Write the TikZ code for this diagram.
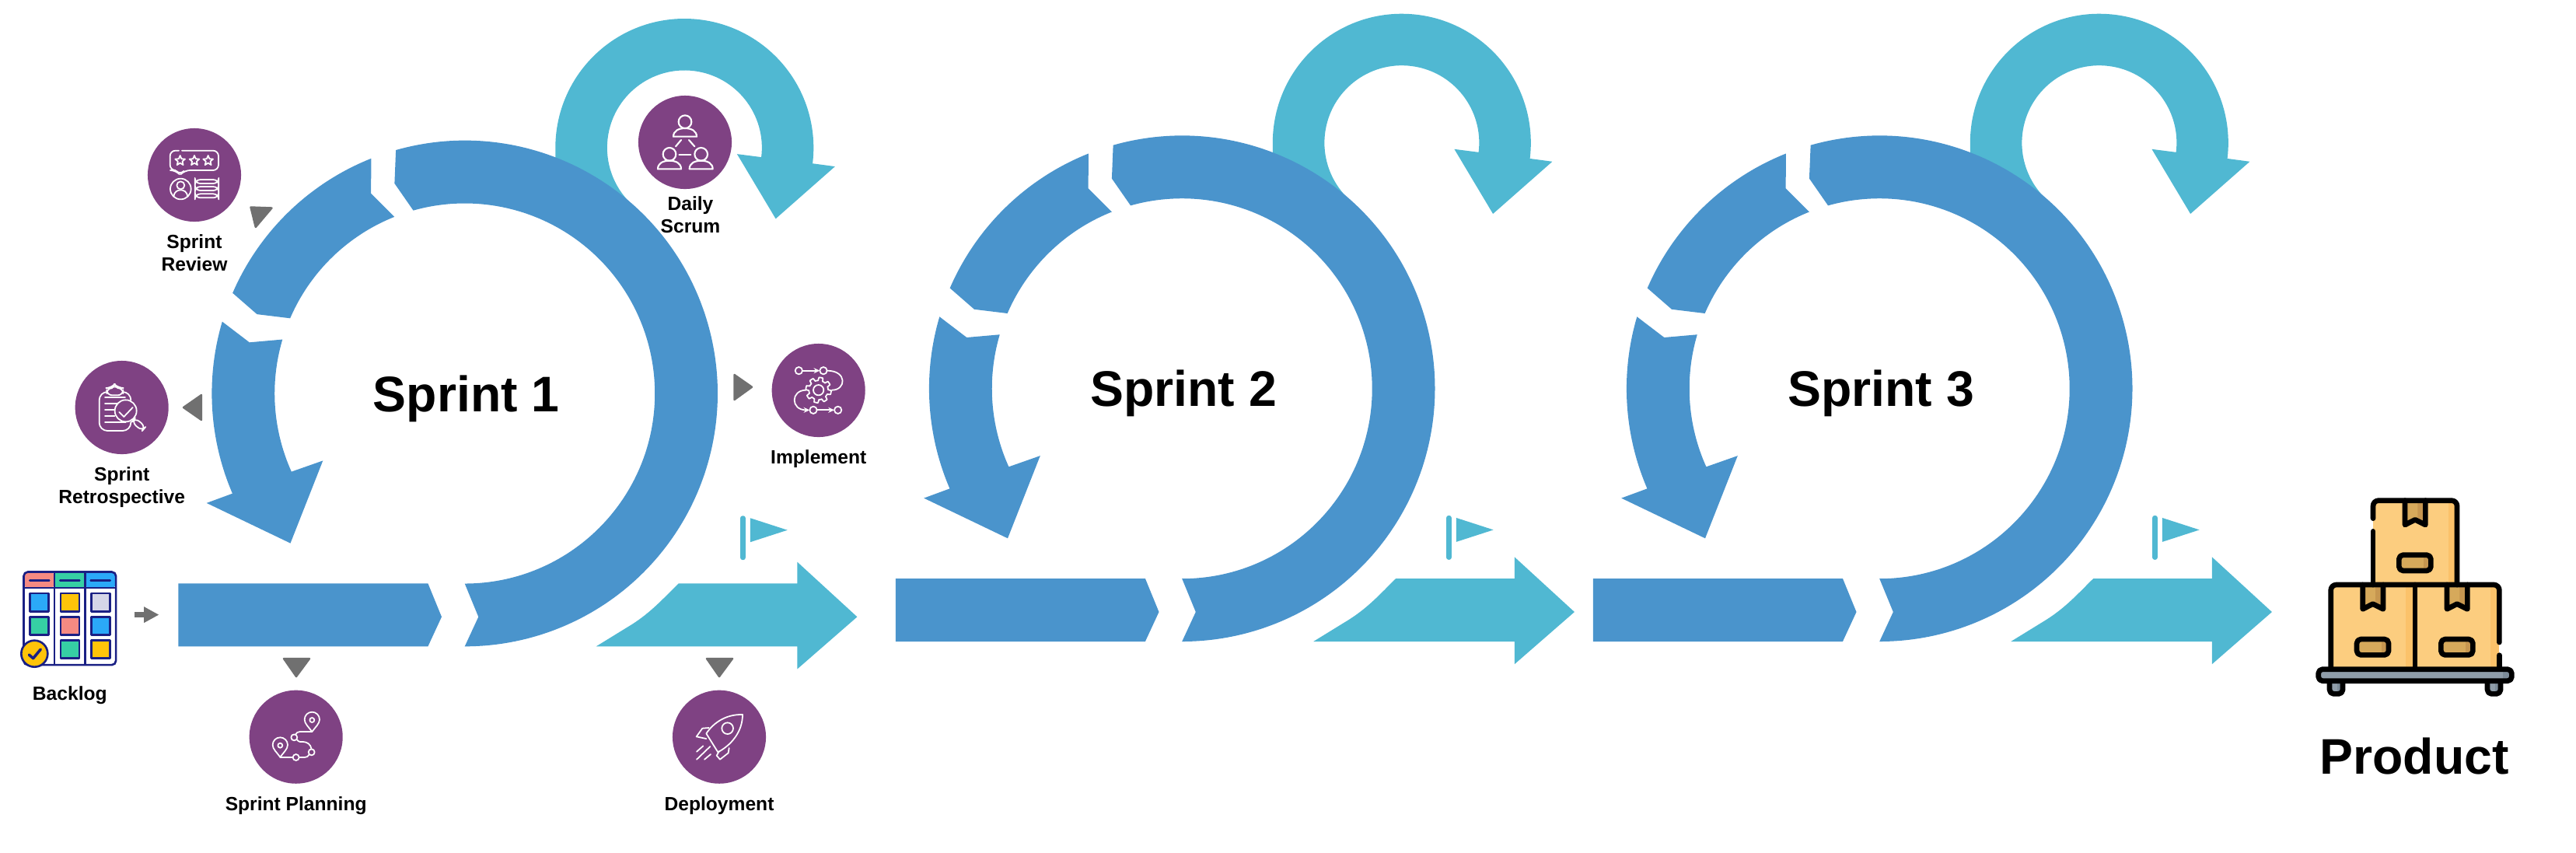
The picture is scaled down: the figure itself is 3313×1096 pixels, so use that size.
\documentclass[tikz,border=0pt]{standalone}
\usepackage{fontspec}
\setmainfont{Liberation Sans}
\usetikzlibrary{positioning,arrows.meta}
\definecolor{ringblue}{HTML}{4A94CC}
\definecolor{loopteal}{HTML}{50B8D2}
\definecolor{stagepurple}{HTML}{7F4283}
\definecolor{pointergrey}{HTML}{707070}
\definecolor{boardnavy}{HTML}{1A2084}
\definecolor{cellred}{HTML}{F58A82}
\definecolor{cellgreen}{HTML}{36CFA4}
\definecolor{cellblue}{HTML}{2BA9F8}
\definecolor{cellyellow}{HTML}{FFC409}
\definecolor{celllav}{HTML}{D5D6E8}
\definecolor{parcelfill}{HTML}{FCCD7F}
\definecolor{parcelside}{HTML}{FBC26A}
\definecolor{tapefill}{HTML}{D6A95B}
\definecolor{tapeside}{HTML}{C69650}
\definecolor{palletfill}{HTML}{8F9DA9}
\definecolor{palletside}{HTML}{7D8C99}
\tikzset{
  stage/.style={circle,fill=stagepurple,minimum size=1.2cm,inner sep=0pt},
  stagelabel/.style={inner sep=0pt,align=center,font=\fontsize{7}{8.2}\selectfont\bfseries},
  sprinttitle/.style={inner sep=0pt,anchor=base,font=\fontsize{18.3}{20}\selectfont\bfseries},
  pointer/.style={fill=pointergrey,draw=pointergrey,line width=.7pt,line join=round},
  iconline/.style={draw=white,line width=.5pt,line cap=round,line join=round},
  cell/.style={draw=boardnavy,line width=.75pt,line join=round},
  parcelline/.style={draw=black,line width=1.9pt,line cap=round,line join=round},
}
\begin{document}
\begin{tikzpicture}[x=0.01cm,y=-0.01cm]
\useasboundingbox (0,0) rectangle (3313,1096);
\def\ringout{325.3}
\def\ringin{244.5}
\foreach \cx/\cy/\fx/\fy/\n in {597.7/506/14.5/-6/1,1520.2/499.7/0/0/2,2417.2/499.7/11/0/3}{
  \begin{scope}[shift={(\cx,\cy)}]
    \fill[loopteal] (116.6,-295) -- (116.6,-316) arc[start angle=180,end angle=367,radius=166]
      -- (476.2,-291.9) -- (399.9,-224.7) -- (350.2,-307.9) -- (381.4,-303.9)
      arc[start angle=7,end angle=-226,radius=99.5] -- (225,-225) -- cycle;
    \fill[ringblue] (-105.8:\ringout) arc[start angle=-105.8,end angle=90,radius=\ringout]
      -- (17.6,287.3) -- (0,\ringin) arc[start angle=90,end angle=-105.7,radius=\ringin] -- (-90.3,-270.1) -- cycle;
    \fill[ringblue] (-156.6:\ringout) arc[start angle=-156.6,end angle=-111.7,radius=\ringout]
      -- (-120.6,-257.4) -- (-111.7:\ringin) arc[start angle=-111.7,end angle=-156.7,radius=\ringin] -- (-267.2,-101.9) -- cycle;
    \fill[ringblue] (-203.3:\ringout) arc[start angle=-203.3,end angle=-163.5,radius=\ringout]
      -- (-276.9,-65.7) -- (-163.5:\ringin) arc[start angle=-163.5,end angle=-204.3,radius=\ringin]
      -- (-182.4,86.4) -- (-224.2,192.6) -- (-332,140.9) -- cycle;
    \fill[ringblue] (-368.4,244.3) -- (-47.3,244.3) -- (-29.7,287.3) -- (-47.3,325.3) -- (-368.4,325.3) -- cycle;
    \fill[loopteal] (169,325.3) -- (215,297) .. controls (240,281) and (255,264) .. (275,244.3) -- (427.7,244.3)
      -- (427.7,216.7) -- (504.7,287.3) -- (427.7,354.4) -- (427.7,325.3) -- cycle;
    \fill[loopteal,rounded corners=.8pt] (339.9+\fx,163.3+\fy) rectangle (346.6+\fx,220.1+\fy);
    \fill[loopteal] (352.6+\fx,166.2+\fy) -- (400.5+\fx,181.7+\fy) -- (352.6+\fx,197.2+\fy) -- cycle;
    \node[sprinttitle] (title\n) at (2,23) {Sprint \n};
  \end{scope}
}
\node[stage] (review) at (250,225) {};
\node[stage] (retro) at (156.7,524) {};
\node[stage] (implement) at (1052.7,502) {};
\node[stage] (planning) at (380.7,947.7) {};
\node[stage] (deployment) at (925,947.7) {};
\node[stage] (daily) at (881,183) {};
\node[stagelabel,below=4.3pt of review] (reviewlabel) {Sprint\\Review};
\node[stagelabel,below=4.3pt of retro] (retrolabel) {Sprint\\Retrospective};
\node[stagelabel,below=4.3pt of implement] (implementlabel) {Implement};
\node[stagelabel,below=4.3pt of planning] (planninglabel) {Sprint Planning};
\node[stagelabel,below=4.3pt of deployment] (deploymentlabel) {Deployment};
\node[stagelabel,below=2.3pt of daily,xshift=0.07cm] (dailylabel) {Daily\\Scrum};
\draw[pointer] (322.5,266.5) -- (349.5,267.5) -- (328.8,292) -- cycle;
\draw[pointer] (236,524) -- (259,508) -- (259,540) -- cycle;
\draw[pointer] (944.5,482) -- (967,497.7) -- (944.5,514) -- cycle;
\draw[pointer] (365,847) -- (398,847) -- (381,870) -- cycle;
\draw[pointer] (909,847) -- (942,847) -- (925,870) -- cycle;
\begin{scope}[shift={(150,150)},scale=1/3]
  \draw[iconline,rounded corners=2pt] (240,131) -- (206,131) -- (206,207) -- (228,207) -- (245,225) -- (262,207) -- (393,207) -- (393,131) -- (252,131);
  \foreach \sx in {245,300,353}
    \draw[iconline,shift={(\sx,170)}] (-90:20)--(-54:9)--(-18:20)--(18:9)--(54:20)--(90:9)--(126:20)--(162:9)--(198:20)--(234:9)--cycle;
  \draw[iconline] (247,279) circle[radius=40];
  \draw[iconline] (247,265) circle[radius=15];
  \draw[iconline] (220,308) .. controls (222,290) and (235,283) .. (247,283) .. controls (259,283) and (272,290) .. (274,308);
  \foreach \sy in {243,270,298}
    \draw[iconline,rounded corners=2pt] (302,\sy) rectangle (394,\sy+15);
\end{scope}
\begin{scope}[shift={(60,440)},scale=1/3]
  \draw[iconline,rounded corners=3pt] (232,192) -- (203,192) -- (203,342) -- (325,342) -- (325,308);
  \draw[iconline,rounded corners=3pt] (295,192) -- (325,192) -- (325,222);
  \draw[iconline,rounded corners=2pt] (232,205) -- (232,177) -- (250,177) -- (262,163) -- (275,177) -- (295,177) -- (295,205) -- cycle;
  \foreach \ly/\lx in {213/303,238/275,262/262,285/262,310/305}
    \draw[iconline] (225,\ly) -- (\lx,\ly);
  \draw[iconline] (305,265) circle[radius=42];
  \draw[iconline] (280,270) -- (298,288) -- (332,252);
  \draw[iconline,rounded corners=2pt] (342,292) -- (382,327) -- (368,343) -- (328,308) -- cycle;
\end{scope}
\begin{scope}[shift={(960,420)},scale=1/3]
  \foreach \px/\py in {202/170,297/170,258/322,353/322}
    \draw[iconline] (\px,\py) circle[radius=14];
  \draw[iconline,-{Stealth[length=2.2pt,width=2pt]}] (216,170) -- (283,170);
  \draw[iconline,-{Stealth[length=2.2pt,width=2pt]}] (272,322) -- (339,322);
  \draw[iconline] (311,170) .. controls (390,170) and (385,245) .. (330,245);
  \draw[iconline,-{Stealth[length=2.2pt,width=2pt]}] (230,245) .. controls (170,245) and (170,322) .. (244,322);
  \draw[iconline] plot[domain=0:360,samples=145] ({278+(43+6*max(-1,min(1,4*sin(8*\x))))*cos(\x)},{245+(43+6*max(-1,min(1,4*sin(8*\x))))*sin(\x)}) -- cycle;
  \draw[iconline] (278,245) circle[radius=20];
\end{scope}
\begin{scope}[shift={(290,860)},scale=1/3]
  \foreach \px/\py in {334/198,211/296}{
    \draw[iconline,shift={(\px,\py)}] (0,45) .. controls (-12,28) and (-29,14) .. (-29,-2) arc[start angle=180,end angle=360,radius=29] .. controls (29,14) and (12,28) .. (0,45) -- cycle;
    \draw[iconline] (\px,\py) circle[radius=9];
  }
  \foreach \px/\py in {265/265,332/322,272/342}
    \draw[iconline] (\px,\py) circle[radius=12];
  \draw[iconline] (211,342) -- (260,342);
  \draw[iconline] (284,342) -- (305,342) .. controls (313,342) and (320,338) .. (323,331);
  \draw[iconline] (332,310) .. controls (328,290) and (315,283) .. (300,282) -- (288,282) .. controls (283,281) and (279,279) .. (275,273);
  \draw[iconline] (270,254) .. controls (273,247) and (280,243) .. (287,243) -- (334,243);
\end{scope}
\begin{scope}[shift={(840,860)},scale=1/3]
  \draw[iconline] (345,177) .. controls (285,175) and (235,205) .. (205,250) -- (250,322) .. controls (300,295) and (345,245) .. (345,177) -- cycle;
  \draw[iconline] (287,230) circle[radius=22];
  \draw[iconline] (215,228) -- (190,230) -- (167,262) -- (205,270);
  \draw[iconline] (293,306) -- (290,325) -- (258,350) -- (245,335) -- (255,318);
  \draw[iconline] (168,320) -- (193,298);
  \draw[iconline] (168,350) -- (220,300);
  \draw[iconline] (198,350) -- (222,330);
\end{scope}
\begin{scope}[shift={(780,100)},scale=1/3]
  \foreach \hx/\hy in {303/170,243/295,365/295}{
    \draw[iconline,line width=.6pt] (\hx,\hy) circle[radius=25];
    \draw[iconline,line width=.6pt,shift={(\hx,\hy)}] (-45,57) .. controls (-45,35) and (-25,25) .. (0,25) .. controls (25,25) and (45,35) .. (45,57) -- cycle;
  }
  \draw[iconline,line width=.6pt] (267,265) -- (288,240);
  \draw[iconline,line width=.6pt] (318,240) -- (340,265);
  \draw[iconline,line width=.6pt] (280,296) -- (325,296);
\end{scope}
\begin{scope}[shift={(0,700)},scale=1/3]
  \fill[cellred,rounded corners=1.5pt] (92,168) -- (92,107) -- (210,107) -- (210,168) -- cycle;
  \fill[cellgreen] (210,107) rectangle (328,168);
  \fill[cellblue,rounded corners=1.5pt] (328,168) -- (328,107) -- (447,107) -- (447,168) -- cycle;
  \foreach \bx in {210,328}
    \draw[cell] (\bx,107) -- (\bx,465);
  \draw[cell] (92,168) -- (447,168);
  \foreach \bx in {115,232,350}
    \draw[cell,line cap=round] (\bx,139) -- (\bx+75,139);
  \foreach \bx/\by/\bc in {152/224/cellblue,270/224/cellyellow,388/224/celllav,152/315/cellgreen,270/315/cellred,388/315/cellblue,270/405/cellgreen,388/405/cellyellow}
    \draw[cell,fill=\bc] (\bx-36,\by-35) rectangle (\bx+36,\by+35);
\end{scope}
\node[draw=boardnavy,line width=.75pt,rounded corners=1.5pt,minimum width=1.185cm,minimum height=1.195cm,inner sep=0pt] (backlog) at (89.8,795.3) {};
\begin{scope}[shift={(0,700)},scale=1/3]
  \draw[cell,fill=cellyellow] (133,422) circle[radius=51];
  \draw[cell,line width=1pt,line cap=round] (112,426) -- (128,440) -- (157,405);
\end{scope}
\node[stagelabel,below=7.2pt of backlog] (backloglabel) {Backlog};
\coordinate (backlogout) at (173,790.6);
\coordinate (sprintin) at (204.5,790.6);
\draw[pointergrey,line width=2.1pt,-{Triangle[length=5.5pt,width=5.5pt]}] (backlogout) -- (sprintin);
\begin{scope}[shift={(2850,600)},scale=1/3]
  \foreach \bx/\by in {606/131,443/456,768/456}{
    \begin{scope}[shift={(\bx,\by)}]
      \fill[parcelfill] (0,0) rectangle (325,326);
      \fill[parcelside] (290,0) rectangle (325,326);
      \fill[tapefill] (123,0) -- (123,94) -- (162,74) -- (202,94) -- (202,0) -- cycle;
      \fill[tapeside] (172,0) -- (172,80) -- (202,94) -- (202,0) -- cycle;
      \draw[parcelline] (123,0) -- (123,94) -- (162,74) -- (202,94) -- (202,0);
      \fill[tapefill] (100,210) rectangle (223,271);
      \fill[tapeside] (195,210) rectangle (223,271);
      \draw[parcelline,rounded corners=1.5pt] (100,210) rectangle (223,271);
    \end{scope}
  }
  \draw[parcelline,rounded corners=2pt] (606,200) -- (606,131) -- (930,131) -- (930,456);
  \draw[parcelline] (606,250) -- (606,456);
  \draw[parcelline,rounded corners=2pt] (443,782) -- (443,456) -- (1093,456) -- (1093,678);
  \draw[parcelline] (1093,728) -- (1093,782);
  \draw[parcelline] (768,456) -- (768,782);
  \foreach \fx in {438,1047}{
    \fill[palletfill] (\fx,827) rectangle (\fx+51,877);
    \fill[palletside] (\fx+30,827) rectangle (\fx+51,877);
    \draw[parcelline,rounded corners=1.5pt] (\fx,827) -- (\fx,877) -- (\fx+51,877) -- (\fx+51,827);
  }
  \fill[palletfill] (395,782) rectangle (1141,827);
  \fill[palletside] (1108,782) rectangle (1141,827);
  \draw[parcelline,rounded corners=1.5pt] (395,782) rectangle (1141,827);
\end{scope}
\node[inner sep=0pt,anchor=base,font=\fontsize{18.3}{20}\selectfont\bfseries] (product) at (3105,995) {Product};
\end{tikzpicture}
\end{document}
